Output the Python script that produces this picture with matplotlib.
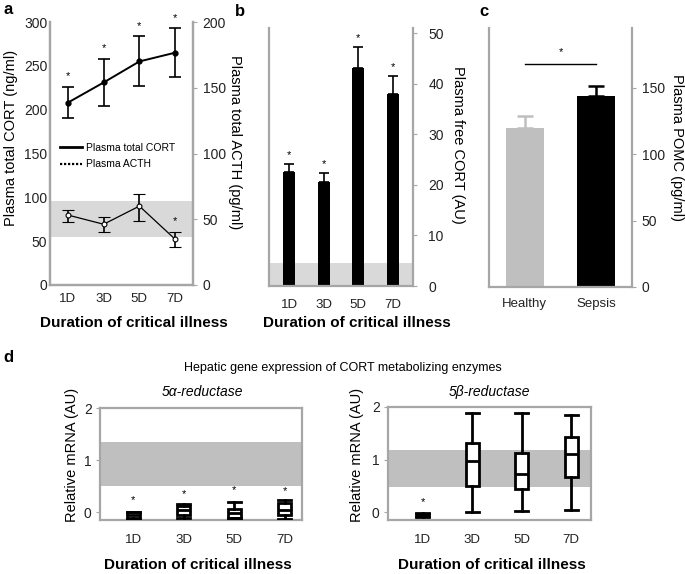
import matplotlib
matplotlib.use("Agg")
import matplotlib.pyplot as plt
from matplotlib.lines import Line2D
import numpy as np

plt.rcParams['font.family'] = ['Liberation Sans', 'DejaVu Sans']

W, H = 685, 574
GRID = '#A6A6A6'
BAND_LIGHT = '#D9D9D9'
BAND_DARK = '#BFBFBF'

# ---- data ----
days = ['1D', '3D', '5D', '7D']

# panel a
cort_mean = [208, 231, 255, 265]
cort_err = [18, 27, 28.5, 28]
acth_mean = [53.2, 46.2, 60.0, 34.8]
acth_lo = [47.7, 40.5, 48.7, 28.7]
acth_hi = [57.0, 51.9, 69.2, 40.5]
cort_band = [55, 96]

# panel b
free_cort = [22.6, 20.6, 43.0, 38.0]
free_cort_err = [1.5, 1.7, 4.3, 3.5]
free_band = [0, 4.6]

# panel c
groups = ['Healthy', 'Sepsis']
pomc = [120, 143.6]
pomc_err = [8.8, 8.0]

# panel d  (whislo, q1, med, q3, whishi)
red5a = [(-0.13, -0.11, -0.06, 0.0, 0.01),
         (-0.12, -0.05, 0.04, 0.12, 0.16),
         (-0.12, -0.12, -0.02, 0.07, 0.20),
         (-0.13, -0.05, 0.04, 0.17, 0.23)]
red5b = [(-0.09, -0.08, -0.05, -0.03, -0.02),
         (0.01, 0.50, 0.97, 1.32, 1.89),
         (0.02, 0.44, 0.73, 1.13, 1.88),
         (0.04, 0.67, 1.10, 1.42, 1.84)]
band5a = [0.50, 1.34]
band5b = [0.48, 1.19]
star5a = [0.23, 0.34, 0.43, 0.41]


def px_axes(l, t, r, b):
    return fig.add_axes([l / W, 1 - b / H, (r - l) / W, (b - t) / H])


def style(ax, spines=('left', 'right', 'bottom')):
    for s in ['left', 'right', 'top', 'bottom']:
        ax.spines[s].set_visible(s in spines)
        ax.spines[s].set_color(GRID)
        ax.spines[s].set_linewidth(1.6)
    ax.tick_params(axis='x', length=0, labelsize=9.5, colors='#222222')
    ax.tick_params(axis='y', length=3, color=GRID, labelsize=10,
                   labelcolor='#222222')


fig = plt.figure(figsize=(W / 100, H / 100), dpi=100)
x = np.arange(len(days))

# ---------------- panel a ----------------
axa = px_axes(50, 22, 193, 285)
style(axa)
axa.set_xlim(-0.5, 3.5)
axa.set_ylim(0, 300)
axa.set_yticks(range(0, 301, 50))
axa.tick_params(axis='y', length=0, pad=2)
axa.set_xticks(x, days)
axa.tick_params(axis='x', pad=6)
axa.axhspan(cort_band[0], cort_band[1], color=BAND_LIGHT, lw=0, zorder=0)
axa.errorbar(x, cort_mean, yerr=cort_err, color='black', lw=1.4,
             elinewidth=1.2, capsize=4, capthick=1.2, marker='o', ms=3.5,
             zorder=3)
for xi, m, e in zip(x, cort_mean, cort_err):
    axa.text(xi, m + e + 12, '*', ha='center', va='center', fontsize=8)

axa2 = axa.twinx()
style(axa2)
axa2.set_ylim(0, 200)
axa2.set_yticks(range(0, 201, 50))
axa2.tick_params(axis='y', pad=4)
acth_yerr = [np.array(acth_mean) - np.array(acth_lo),
             np.array(acth_hi) - np.array(acth_mean)]
axa2.errorbar(x, acth_mean, yerr=acth_yerr, color='black', lw=0.9,
              elinewidth=1.2, capsize=4, capthick=1.2, marker='o', ms=3.5,
              mfc='white', mec='black', mew=0.8, zorder=3)
axa2.text(3, acth_hi[3] + 8, '*', ha='center', va='center', fontsize=8)

handles = [Line2D([], [], color='black', lw=2),
           Line2D([], [], color='black', lw=1.6, ls=(0, (1, 0.8)))]
axa.legend(handles, ['Plasma total CORT', 'Plasma ACTH'], frameon=False,
           fontsize=7.5, loc='center left', bbox_to_anchor=(0.07, 0.49),
           borderaxespad=0, borderpad=0, handlelength=2.1,
           handletextpad=0.4, labelspacing=0.6)

# ---------------- panel b ----------------
axb = px_axes(269, 28, 413, 286)
style(axb)
axb.set_xlim(-0.58, 3.58)
axb.set_ylim(0, 51)
axb.yaxis.tick_right()
axb.set_yticks(range(0, 51, 10))
axb.tick_params(axis='y', pad=8)
axb.set_xticks(x, days)
axb.tick_params(axis='x', pad=9)
axb.axhspan(free_band[0], free_band[1], color=BAND_LIGHT, lw=0, zorder=0)
axb.bar(x, free_cort, width=0.35, color='black', zorder=2)
axb.errorbar(x, free_cort, yerr=[np.zeros(4), free_cort_err], fmt='none',
             ecolor='black', elinewidth=1.2, capsize=3.5, capthick=1.2)
for xi, m, e in zip(x, free_cort, free_cort_err):
    axb.text(xi, m + e + 1.8, '*', ha='center', va='center', fontsize=8)

# ---------------- panel c ----------------
axc = px_axes(489, 28, 632, 287)
style(axc)
xc = np.arange(len(groups))
axc.set_xlim(-0.5, 1.5)
axc.set_ylim(0, 195)
axc.yaxis.tick_right()
axc.set_yticks(range(0, 151, 50))
axc.tick_params(axis='y', pad=4)
axc.set_xticks(xc, groups)
axc.tick_params(axis='x', pad=8)
bar_cols = [BAND_DARK, 'black']
axc.bar(xc, pomc, width=0.53, color=bar_cols, zorder=2)
for xi, m, e, c in zip(xc, pomc, pomc_err, bar_cols):
    axc.errorbar(xi, m, yerr=[[0], [e]], fmt='none', ecolor=c,
                 elinewidth=1.8, capsize=6, capthick=1.8)
sig_y = 168
axc.plot([0, 1], [sig_y, sig_y], color='black', lw=1)
axc.text(0.5, sig_y + 9, '*', ha='center', va='center', fontsize=8)

# ---------------- panel d ----------------
def box_panel(ax, stats, band, xlim):
    style(ax, spines=('left', 'right', 'top', 'bottom'))
    ax.set_xlim(*xlim)
    ax.set_ylim(-0.15, 2.0)
    ax.set_yticks([0, 1, 2])
    ax.tick_params(axis='y', pad=3)
    ax.axhspan(band[0], band[1], color=BAND_DARK, lw=0, zorder=0)
    bstats = [dict(whislo=s[0], q1=s[1], med=s[2], q3=s[3], whishi=s[4])
              for s in stats]
    lp = dict(color='black', lw=2)
    ax.bxp(bstats, positions=range(len(stats)), widths=0.26,
           showfliers=False, patch_artist=True,
           boxprops=dict(facecolor='white', edgecolor='black', lw=2),
           medianprops=lp, whiskerprops=lp, capprops=lp, capwidths=0.26,
           zorder=3)
    ax.set_xticks(range(len(days)), days)
    ax.tick_params(axis='x', pad=10)


axd1 = px_axes(100, 408, 302, 520)
box_panel(axd1, red5a, band5a, (-0.66, 3.34))
for xi, s in zip(x, star5a):
    axd1.text(xi, s, '*', ha='center', va='center', fontsize=8)

axd2 = px_axes(388, 407, 591, 520)
box_panel(axd2, red5b, band5b, (-0.7, 3.4))
axd2.text(0, 0.2, '*', ha='center', va='center', fontsize=8)

# ---------------- labels ----------------
def ftext(px, py, s, **kw):
    fig.text(px / W, 1 - py / H, s, ha='center', va='center', **kw)


ftext(8, 10, 'a', fontsize=12, fontweight='bold')
ftext(240, 12, 'b', fontsize=12, fontweight='bold')
ftext(484, 12, 'c', fontsize=12, fontweight='bold')
ftext(8, 358, 'd', fontsize=12, fontweight='bold')

ftext(11, 138, 'Plasma total CORT (ng/ml)', fontsize=10.5, rotation=90)
ftext(235, 142, 'Plasma total ACTH (pg/ml)', fontsize=10.5, rotation=270)
ftext(458, 145, 'Plasma free CORT (AU)', fontsize=10.5, rotation=270)
ftext(677, 148, 'Plasma POMC (pg/ml)', fontsize=10.5, rotation=270)

ftext(134, 323, 'Duration of critical illness', fontsize=11, fontweight='bold')
ftext(357, 323, 'Duration of critical illness', fontsize=11, fontweight='bold')

ftext(343, 368, 'Hepatic gene expression of CORT metabolizing enzymes',
      fontsize=9)
ftext(202, 392, '5α-reductase', fontsize=10, style='italic')
ftext(489, 392, '5β-reductase', fontsize=10, style='italic')
ftext(72, 455, 'Relative mRNA (AU)', fontsize=10.5, rotation=90)
ftext(357, 455, 'Relative mRNA (AU)', fontsize=10.5, rotation=90)
ftext(198, 565, 'Duration of critical illness', fontsize=11, fontweight='bold')
ftext(492, 565, 'Duration of critical illness', fontsize=11, fontweight='bold')

fig.savefig('out.png', dpi=100)
